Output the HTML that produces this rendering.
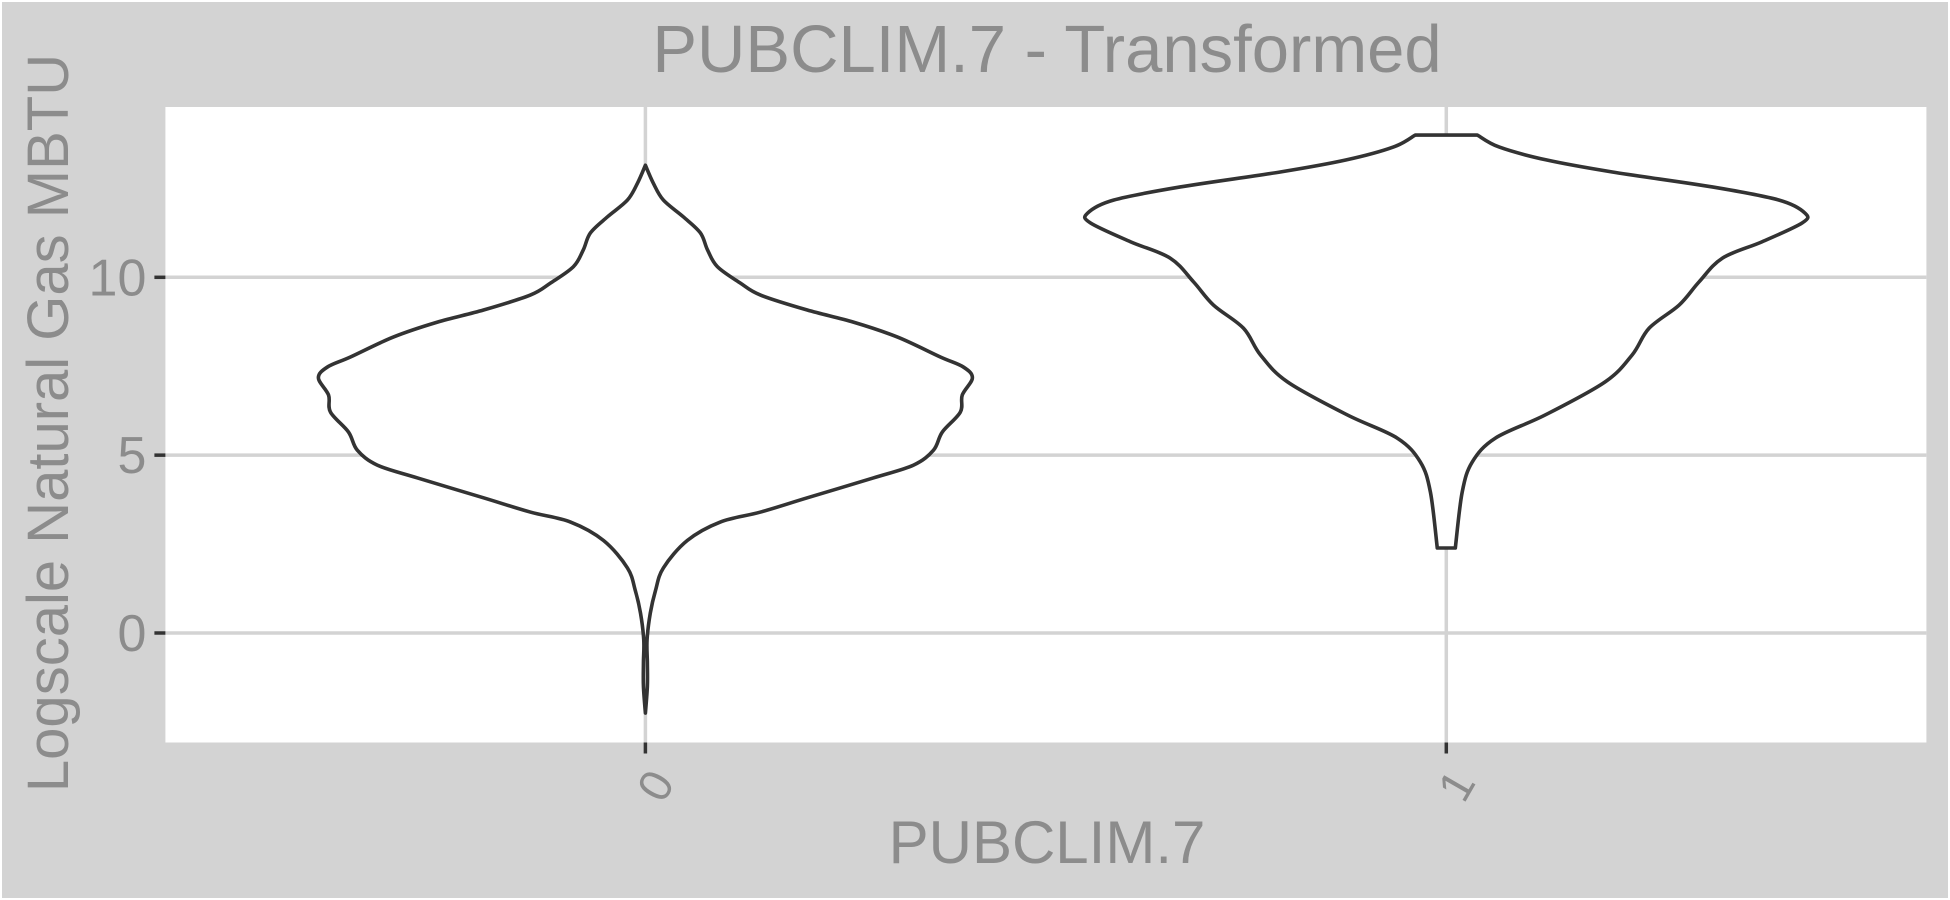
<!DOCTYPE html>
<html><head><meta charset="utf-8"><style>
html,body{margin:0;padding:0;background:#fff}
svg{display:block;font-family:"Liberation Sans",sans-serif}
</style></head><body>
<svg id="chart" width="1950" height="900" viewBox="0 0 1950 900">
<rect x="2" y="2" width="1946" height="896" fill="#d3d3d3"/>
<rect x="165.4" y="107" width="1761" height="635.5" fill="#ffffff"/>
<g id="grid"></g>
<g id="violins"></g>
<g id="axes"></g>
<text x="1047" y="72" text-anchor="middle" font-size="67" fill="#8c8c8c">PUBCLIM.7 - Transformed</text>
<text x="1047" y="863" text-anchor="middle" font-size="60" fill="#8c8c8c">PUBCLIM.7</text>
<text transform="translate(68,423) rotate(-90)" text-anchor="middle" font-size="58" fill="#8c8c8c">Logscale Natural Gas MBTU</text>
</svg>
<script>
const categories = ["0", "1"];
const yTicks = [0, 5, 10];
const v0Levels = [13.15,12.65,12.17,11.7,11.25,10.77,10.3,9.84,9.5,9.08,8.74,8.32,7.76,7.48,7.17,6.69,6.21,5.65,5.14,4.72,4.36,3.8,3.4,3.12,2.6,1.83,1.2,0.56,-0.2,-0.84,-1.5,-2.25];
const v0Width  = [0,0.024,0.055,0.116,0.168,0.19,0.22,0.29,0.352,0.495,0.636,0.771,0.902,0.972,1,0.969,0.963,0.908,0.881,0.82,0.697,0.495,0.352,0.229,0.128,0.055,0.031,0.015,0.005,0.006,0.006,0];
const v1Levels = [14.0,13.66,13.3,12.96,12.54,12.17,11.8,11.53,11.0,10.54,9.87,9.22,8.57,7.82,7.06,6.13,5.48,4.81,3.96,2.39];
const v1Width  = [0.086,0.147,0.277,0.46,0.737,0.922,0.994,0.986,0.875,0.765,0.70,0.645,0.562,0.515,0.44,0.274,0.136,0.072,0.044,0.025];
const violinLevels = [v0Levels, v1Levels];
const violinWidths = [v0Width, v1Width];

const NS = "http://www.w3.org/2000/svg";
const pLeft = 165.4, pRight = 1926.4, pTop = 107, pBottom = 742.5;
function yScale(v){ return 633 - v * 35.57; }
function xScale(i){ return 645.4 + i * 800.9; }
const maxHalf = [327, 361];

function mk(tag, attrs, parent){
  const e = document.createElementNS(NS, tag);
  for (const k in attrs) e.setAttribute(k, attrs[k]);
  parent.appendChild(e);
  return e;
}
const grid = document.getElementById("grid");
const axes = document.getElementById("axes");
const vg = document.getElementById("violins");

yTicks.forEach(t => {
  const y = yScale(t);
  const g = mk("line", {x1:pLeft, x2:pRight, y1:y, y2:y, stroke:"#d3d3d3", "stroke-width":3.5}, grid);
  
  
  const tk = mk("line", {x1:pLeft-11, x2:pLeft, y1:y, y2:y, stroke:"#333", "stroke-width":3.5}, axes);
  
  
  const tx = mk("text", {x:pLeft-19, y:y+18, "text-anchor":"end", "font-size":52, fill:"#8c8c8c"}, axes);
  tx.textContent = t;
  
  
});
categories.forEach((c, i) => {
  const x = xScale(i);
  const g = mk("line", {x1:x, x2:x, y1:pTop, y2:pBottom, stroke:"#d3d3d3", "stroke-width":3.5}, grid);
  
  
  const tk = mk("line", {x1:x, x2:x, y1:pBottom, y2:pBottom+11, stroke:"#333", "stroke-width":3.5}, axes);
  
  
  const tx = mk("text", {transform:`translate(${x+10},${pBottom+43}) rotate(-60)`, "text-anchor":"middle", "dominant-baseline":"central", "font-size":46, fill:"#8c8c8c"}, axes);
  tx.textContent = c;
  
  
});

function smooth(pts){
  let d = `M${pts[0][0]},${pts[0][1]}`;
  for (let i = 0; i < pts.length - 1; i++){
    const p0 = pts[Math.max(0,i-1)], p1 = pts[i], p2 = pts[i+1], p3 = pts[Math.min(pts.length-1,i+2)];
    const c1x = p1[0] + (p2[0]-p0[0])/6, c1y = p1[1] + (p2[1]-p0[1])/6;
    const c2x = p2[0] - (p3[0]-p1[0])/6, c2y = p2[1] - (p3[1]-p1[1])/6;
    d += ` C${c1x},${c1y} ${c2x},${c2y} ${p2[0]},${p2[1]}`;
  }
  return d;
}
categories.forEach((c, i) => {
  const cx = xScale(i), L = violinLevels[i], W = violinWidths[i];
  const rightPts = L.map((v,k) => [cx + W[k]*maxHalf[i], yScale(v)]);
  const leftPts = L.map((v,k) => [cx - W[k]*maxHalf[i], yScale(v)]).reverse();
  let d = smooth(rightPts);
  const lp = smooth(leftPts);
  d += " L" + lp.slice(1) + " Z";
  const p = mk("path", {d:d, fill:"#ffffff", stroke:"#333333", "stroke-width":3.6, "stroke-linejoin":"round"}, vg);
  
  
});
</script>
</body></html>
